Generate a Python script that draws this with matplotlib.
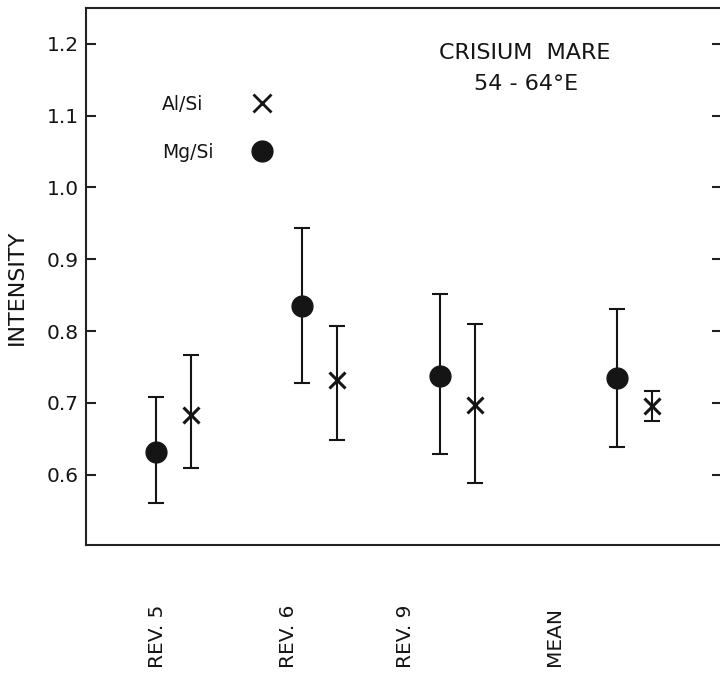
import matplotlib
matplotlib.use("Agg")
import matplotlib.pyplot as plt
from matplotlib.lines import Line2D

# ---- data ----
categories = ["REV. 5", "REV. 6", "REV. 9", "MEAN"]
mg_si = [0.632, 0.835, 0.738, 0.734]
mg_lo = [0.561, 0.728, 0.629, 0.638]
mg_hi = [0.708, 0.944, 0.851, 0.831]
al_si = [0.683, 0.732, 0.697, 0.696]
al_lo = [0.609, 0.648, 0.588, 0.675]
al_hi = [0.767, 0.807, 0.810, 0.717]
yticks = [0.6, 0.7, 0.8, 0.9, 1.0, 1.1, 1.2]
ytick_labels = ["0.6", "0.7", "0.8", "0.9", "1.0", "1.1", "1.2"]

# ---- layout (positions on an arbitrary x scale) ----
mg_x = [1.10, 3.40, 5.57, 8.35]
pair_offset = 0.55
al_x = [x + pair_offset for x in mg_x]
label_x = [1.12, 3.18, 5.02, 7.37]

INK = "#151515"
plt.rcParams['font.family'] = ['DejaVu Sans']

fig = plt.figure(figsize=(7.2, 6.86), dpi=100)
ax = fig.add_axes([86 / 720, 1 - 545 / 686, 636 / 720, 537 / 686])
ax.set_xlim(0, 10)
ax.set_ylim(0.502, 1.25)

mg_err = [[m - l for m, l in zip(mg_si, mg_lo)], [h - m for m, h in zip(mg_si, mg_hi)]]
al_err = [[m - l for m, l in zip(al_si, al_lo)], [h - m for m, h in zip(al_si, al_hi)]]

ax.errorbar(mg_x, mg_si, yerr=mg_err, fmt='none', ecolor=INK, elinewidth=1.5,
            capsize=6, capthick=1.5)
ax.errorbar(al_x, al_si, yerr=al_err, fmt='none', ecolor=INK, elinewidth=1.5,
            capsize=6, capthick=1.5)
ax.plot(mg_x, mg_si, 'o', color=INK, markersize=15, linestyle='none')
ax.plot(al_x, al_si, 'x', color=INK, markersize=12, markeredgewidth=2.2, linestyle='none')

# spines
for s in ['left', 'top', 'bottom']:
    ax.spines[s].set_linewidth(1.5)
    ax.spines[s].set_color('#222222')
ax.spines['right'].set_visible(False)

ax.set_yticks(yticks)
ax.set_yticklabels(ytick_labels, fontsize=14.5, color=INK)
ax.tick_params(axis='y', which='both', direction='in', length=7, width=1.5,
               color='#222222', pad=5, left=True, right=True)
ax.tick_params(axis='y', which='both', labelright=False)

ax.set_xticks(label_x)
ax.set_xticklabels(categories, rotation=90, fontsize=14.5, color=INK)
ax.tick_params(axis='x', length=0, pad=66)
for lbl in ax.get_xticklabels():
    lbl.set_verticalalignment('center')

ax.set_ylabel("INTENSITY", fontsize=16, color=INK, va='center')
ax.yaxis.set_label_coords(-0.108, 0.48)

ax.text(0.69, 0.917, "CRISIUM  MARE", transform=ax.transAxes, ha='center',
        va='center', fontsize=16, color=INK)
ax.text(0.692, 0.859, "54 - 64°E", transform=ax.transAxes, ha='center',
        va='center', fontsize=16, color=INK)

handles = [Line2D([], [], marker='x', color=INK, markersize=13, markeredgewidth=2.0,
                  linestyle='none'),
           Line2D([], [], marker='o', color=INK, markersize=15, linestyle='none')]
leg = ax.legend(handles, ["Al/Si", "Mg/Si"], loc='center left',
                bbox_to_anchor=(0.12, 0.776), frameon=False, markerfirst=False,
                fontsize=13.5, handlelength=1.0, handletextpad=2.05, labelspacing=1.55,
                numpoints=1, borderaxespad=0, borderpad=0)
for t in leg.get_texts():
    t.set_color(INK)

# left-align legend labels while keeping the markers in one column
fig.canvas.draw()
renderer = fig.canvas.get_renderer()
texts = leg.get_texts()
widths = [t.get_window_extent(renderer).width for t in texts]
maxw = max(widths)
rows = leg._legend_handle_box.get_children()[0].get_children()
for row, w in zip(rows, widths):
    row.sep += (maxw - w) * 72.0 / fig.dpi

fig.savefig("out.png", dpi=100)
